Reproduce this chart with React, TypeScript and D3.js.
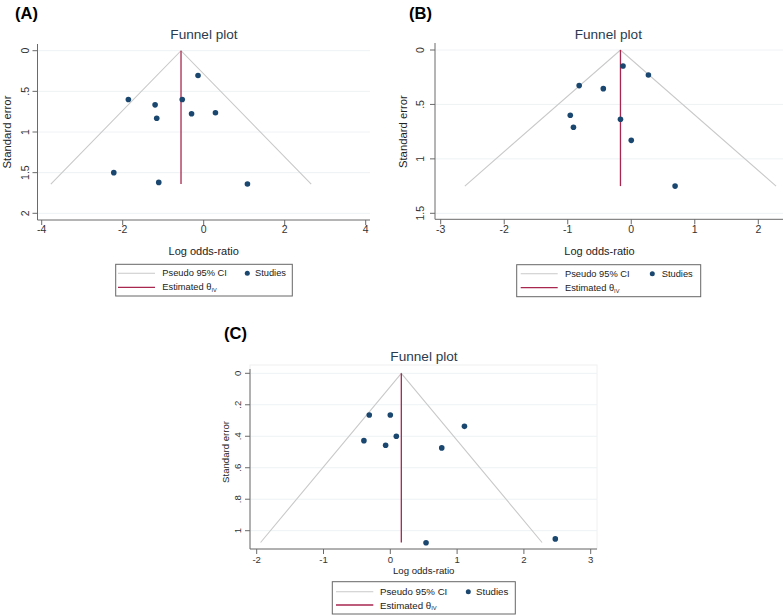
import React from "react";
import * as d3 from "d3";

// ---------- data ----------
const panelLabels = ["(A)", "(B)", "(C)"];
const chartTitle = "Funnel plot";
const xAxisTitle = "Log odds-ratio";
const yAxisTitle = "Standard error";
const legendCI = "Pseudo 95% CI";
const legendStudies = "Studies";
const legendEstimated = "Estimated θ";
const legendEstimatedSub = "IV";

const logOrA = [-0.14, -1.86, -0.53, -1.2, -0.3, 0.29, -1.16, -2.22, -1.11, 1.08];
const seA = [0.305, 0.6, 0.6, 0.666, 0.776, 0.764, 0.83, 1.5, 1.62, 1.64];
const logOrB = [-0.13, 0.27, -0.82, -0.44, -0.96, -0.17, -0.91, 0.0, 0.69];
const seB = [0.147, 0.23, 0.327, 0.355, 0.6, 0.636, 0.71, 0.83, 1.25];
const logOrC = [-0.315, 0.0, 1.11, -0.395, 0.09, -0.07, 0.77, 0.535, 2.47];
const seC = [0.265, 0.265, 0.337, 0.428, 0.4, 0.457, 0.474, 1.077, 1.052];

const thetaIV = [-0.56, -0.17, 0.165];
const seMaxFunnel = [1.64, 1.25, 1.075];

const xTicksA = [-4, -2, 0, 2, 4];
const yTicksA = [0, 0.5, 1, 1.5, 2];
const xTicksB = [-3, -2, -1, 0, 1, 2];
const yTicksB = [0, 0.5, 1, 1.5];
const xTicksC = [-2, -1, 0, 1, 2, 3];
const yTicksC = [0, 0.2, 0.4, 0.6, 0.8, 1];

// ---------- styles / layout ----------
const FONT = "'Liberation Sans', Arial, sans-serif";
const NAVY = "#1a476f";
const CI_GRAY = "#c9c9c9";
const EST = "#a8274f";
const AXIS = "#6a6a6a";
const GRID = "#eef2f4";
const TITLE_COLOR = "#2a3b4f";

type Layout = {
  xDomain: [number, number];
  xRange: [number, number];
  yDomain: [number, number];
  yRange: [number, number];
  axisYPix: number;
  axisXPix: number;
  xEnd: number;
  yTop: number;
  yLabX: number;
  yTitleX: number;
  yTitleSize: number;
  xLabY: number;
  xTitleY: number;
  xTitleSize: number;
  tickSize: number;
  titleX: number;
  titleY: number;
  panelX: number;
  panelY: number;
  legend: { x0: number; x1: number; y0: number; y1: number; r1: number; r2: number; l0: number; l1: number; tx: number; dx: number; sx: number; fs: number };
  frame?: boolean;
};

const layouts: Layout[] = [
  {
    xDomain: [-4, 4], xRange: [41.7, 365.7], yDomain: [0, 2], yRange: [50.7, 213.3],
    axisYPix: 220, axisXPix: 37.5, xEnd: 370, yTop: 44,
    yLabX: 25, yTitleX: 6.5, yTitleSize: 11.3, xLabY: 228.5, xTitleY: 250.7, xTitleSize: 11, tickSize: 10.5,
    titleX: 204, titleY: 34.5, panelX: 15, panelY: 12.5,
    legend: { x0: 115.7, x1: 292.3, y0: 264.3, y1: 296, r1: 273.3, r2: 287.3, l0: 118, l1: 155, tx: 162.3, dx: 247.3, sx: 255, fs: 9.3 },
  },
  {
    xDomain: [-3, 2], xRange: [440.7, 758.3], yDomain: [0, 1.5], yRange: [50, 213.3],
    axisYPix: 219.3, axisXPix: 435, xEnd: 783, yTop: 43,
    yLabX: 420, yTitleX: 403, yTitleSize: 11.3, xLabY: 229, xTitleY: 250.7, xTitleSize: 11, tickSize: 10.5,
    titleX: 608.3, titleY: 34, panelX: 409, panelY: 12.5,
    legend: { x0: 516.7, x1: 700.7, y0: 264.7, y1: 296.7, r1: 273.7, r2: 287.7, l0: 520.7, l1: 557.7, tx: 565, dx: 652.3, sx: 661.7, fs: 9.3 },
  },
  {
    xDomain: [-2, 3], xRange: [256.7, 590.7], yDomain: [0, 1], yRange: [373.3, 530.7],
    axisYPix: 549, axisXPix: 250, xEnd: 597, yTop: 369,
    yLabX: 237, yTitleX: 225.5, yTitleSize: 9.6, xLabY: 559.3, xTitleY: 570, xTitleSize: 9.6, tickSize: 9.6,
    titleX: 424, titleY: 356.7, panelX: 224, panelY: 333,
    legend: { x0: 332.3, x1: 515.3, y0: 581.7, y1: 614, r1: 591.7, r2: 605, l0: 336, l1: 373.3, tx: 380, dx: 468.3, sx: 476, fs: 9.7 },
    frame: true,
  },
];

const panelData = [
  { x: logOrA, se: seA, xTicks: xTicksA, yTicks: yTicksA },
  { x: logOrB, se: seB, xTicks: xTicksB, yTicks: yTicksB },
  { x: logOrC, se: seC, xTicks: xTicksC, yTicks: yTicksC },
];

const fmtY = (d: number) => (d === 0 ? "0" : String(+d.toFixed(2)).replace(/^0\./, "."));

function Panel({ i }: { i: number }) {
  const L = layouts[i];
  const D = panelData[i];
  const x = d3.scaleLinear().domain(L.xDomain).range(L.xRange);
  const y = d3.scaleLinear().domain(L.yDomain).range(L.yRange);
  const theta = thetaIV[i];
  const seMax = seMaxFunnel[i];
  const funnel = d3.line<[number, number]>().x((d) => x(d[0])).y((d) => y(d[1]));
  const funnelPts: [number, number][] = [
    [theta - 1.96 * seMax, seMax],
    [theta, 0],
    [theta + 1.96 * seMax, seMax],
  ];
  const lg = L.legend;
  return (
    <g fontFamily={FONT}>
      <text x={L.panelX} y={L.panelY} fontSize={16.5} fontWeight="bold" fill="#000" dominantBaseline="central">
        {panelLabels[i]}
      </text>
      <text x={L.titleX} y={L.titleY} fontSize={13.6} fill={TITLE_COLOR} textAnchor="middle" dominantBaseline="central">
        {chartTitle}
      </text>
      {L.frame && (
        <rect x={L.axisXPix} y={L.yTop - 4} width={L.xEnd - L.axisXPix} height={L.axisYPix - L.yTop + 4} fill="none" stroke="#f0f0f0" />
      )}
      {D.yTicks.map((t) => (
        <line key={"g" + t} x1={L.axisXPix} x2={L.xEnd} y1={y(t)} y2={y(t)} stroke={GRID} strokeWidth={1} />
      ))}
      <path d={funnel(funnelPts) || ""} fill="none" stroke={CI_GRAY} strokeWidth={1.1} />
      <line x1={x(theta)} x2={x(theta)} y1={y(0)} y2={y(seMax)} stroke={EST} strokeWidth={1.3} />
      {D.x.map((v, k) => (
        <circle key={k} cx={x(v)} cy={y(D.se[k])} r={2.8} fill={NAVY} />
      ))}
      <line x1={L.axisXPix} x2={L.axisXPix} y1={L.yTop} y2={L.axisYPix} stroke={AXIS} strokeWidth={1} />
      <line x1={L.axisXPix} x2={L.xEnd} y1={L.axisYPix} y2={L.axisYPix} stroke={AXIS} strokeWidth={1} />
      {D.yTicks.map((t) => (
        <g key={"y" + t}>
          <line x1={L.axisXPix - 5} x2={L.axisXPix} y1={y(t)} y2={y(t)} stroke={AXIS} />
          <text
            transform={`translate(${L.yLabX},${y(t)}) rotate(-90)`}
            fontSize={L.tickSize}
            fill="#333"
            textAnchor="middle"
            dominantBaseline="central"
          >
            {fmtY(t)}
          </text>
        </g>
      ))}
      {D.xTicks.map((t) => (
        <g key={"x" + t}>
          <line x1={x(t)} x2={x(t)} y1={L.axisYPix} y2={L.axisYPix + 5} stroke={AXIS} />
          <text x={x(t)} y={L.xLabY} fontSize={L.tickSize} fill="#333" textAnchor="middle" dominantBaseline="central">
            {t}
          </text>
        </g>
      ))}
      <text x={(L.xRange[0] + L.xRange[1]) / 2} y={L.xTitleY} fontSize={L.xTitleSize} fill="#222" textAnchor="middle" dominantBaseline="central">
        {xAxisTitle}
      </text>
      <text
        transform={`translate(${L.yTitleX},${(L.yRange[0] + L.yRange[1]) / 2}) rotate(-90)`}
        fontSize={L.yTitleSize}
        fill="#222"
        textAnchor="middle"
        dominantBaseline="central"
      >
        {yAxisTitle}
      </text>
      <rect x={lg.x0} y={lg.y0} width={lg.x1 - lg.x0} height={lg.y1 - lg.y0} fill="#fff" stroke="#666" strokeWidth={1} />
      <line x1={lg.l0} x2={lg.l1} y1={lg.r1} y2={lg.r1} stroke={CI_GRAY} strokeWidth={1.1} />
      <text x={lg.tx} y={lg.r1} fontSize={lg.fs} fill="#222" dominantBaseline="central">
        {legendCI}
      </text>
      <circle cx={lg.dx} cy={lg.r1} r={2.5} fill={NAVY} />
      <text x={lg.sx} y={lg.r1} fontSize={lg.fs} fill="#222" dominantBaseline="central">
        {legendStudies}
      </text>
      <line x1={lg.l0} x2={lg.l1} y1={lg.r2} y2={lg.r2} stroke={EST} strokeWidth={1.3} />
      <text x={lg.tx} y={lg.r2} fontSize={lg.fs} fill="#222" dominantBaseline="central">
        {legendEstimated}
        <tspan fontSize={lg.fs * 0.6} dy={3}>
          {legendEstimatedSub}
        </tspan>
      </text>
    </g>
  );
}

export default function App() {
  return (
    <svg
      width={783}
      height={615}
      viewBox="0 0 783 615"
      style={{ position: "absolute", left: 0, top: 0, background: "#fff" }}
    >
      <rect width={783} height={615} fill="#fff" />
      {layouts.map((_, i) => (
        <Panel key={i} i={i} />
      ))}
    </svg>
  );
}
